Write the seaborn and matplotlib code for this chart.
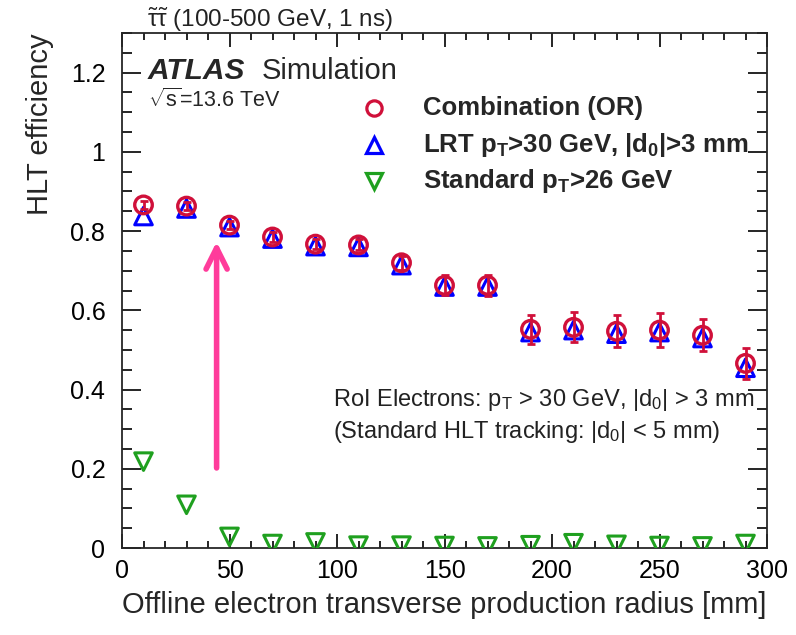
import matplotlib
matplotlib.use('Agg')
import matplotlib.pyplot as plt
from matplotlib.lines import Line2D
from matplotlib.ticker import MultipleLocator
import seaborn as sns
import numpy as np
import pandas as pd

# values
radius = [10, 30, 50, 70, 90, 110, 130, 150, 170, 190, 210, 230, 250, 270, 290]
eff_comb = [0.866, 0.863, 0.815, 0.785, 0.767, 0.765, 0.720, 0.663, 0.663,
            0.552, 0.557, 0.547, 0.550, 0.537, 0.466]
err_comb = [0.010, 0.010, 0.010, 0.012, 0.013, 0.014, 0.018, 0.025, 0.027,
            0.037, 0.038, 0.040, 0.043, 0.040, 0.040]
eff_lrt = [0.838, 0.857, 0.810, 0.781, 0.762, 0.760, 0.714, 0.660, 0.660,
           0.545, 0.550, 0.541, 0.545, 0.530, 0.455]
eff_std = [0.218, 0.109, 0.028, 0.010, 0.014, 0.006, 0.006, 0.005, 0.004,
           0.007, 0.012, 0.008, 0.005, 0.004, 0.010]

df = pd.DataFrame({'radius': radius, 'comb': eff_comb, 'lrt': eff_lrt, 'std': eff_std})

red = '#D0103A'
blue = '#0000FF'
green = '#1FA01F'
pink = '#FF3C9B'

sns.set_style("ticks")
plt.rcParams['font.family'] = ['Liberation Sans', 'DejaVu Sans']
plt.rcParams['mathtext.fontset'] = 'custom'
plt.rcParams['mathtext.rm'] = 'Liberation Sans'
plt.rcParams['mathtext.it'] = 'Liberation Sans:italic'
plt.rcParams['mathtext.bf'] = 'Liberation Sans:bold'
plt.rcParams['mathtext.default'] = 'regular'

fig = plt.figure(figsize=(7.96, 6.35), dpi=100)
ax = fig.add_axes([122 / 796, 1 - 548 / 635, (767 - 122) / 796, (548 - 33) / 635])

# standard tracking
sns.scatterplot(data=df, x='radius', y='std', marker='v', s=160, facecolors='none',
                edgecolor=green, linewidth=2.2, ax=ax, zorder=3)
# LRT
sns.scatterplot(data=df, x='radius', y='lrt', marker='^', s=160, facecolors='none',
                edgecolor=blue, linewidth=2.2, ax=ax, zorder=4)
# combination with error bars
ax.errorbar(radius, eff_comb, yerr=err_comb, fmt='none', ecolor=red, elinewidth=2,
            capsize=3, capthick=2, zorder=5)
sns.scatterplot(data=df, x='radius', y='comb', marker='o', s=160, facecolors='none',
                edgecolor=red, linewidth=2.4, ax=ax, zorder=6)

# pink arrow
ax.annotate('', xy=(44, 0.78), xytext=(44, 0.195),
            arrowprops=dict(arrowstyle='->', color=pink, lw=4, mutation_scale=38))

ax.set_xlim(0, 300)
ax.set_ylim(0, 1.3)
ax.xaxis.set_major_locator(MultipleLocator(50))
ax.xaxis.set_minor_locator(MultipleLocator(10))
ax.yaxis.set_minor_locator(MultipleLocator(0.05))
ax.set_yticks([0, 0.2, 0.4, 0.6, 0.8, 1.0, 1.2])
ax.set_yticklabels(['0', '0.2', '0.4', '0.6', '0.8', '1', '1.2'])

ax.tick_params(axis='both', which='both', direction='in', top=True, right=True,
               labelsize=18, colors='black', width=1.2)
ax.tick_params(axis='x', which='major', length=10, pad=8)
ax.tick_params(axis='x', which='minor', length=5)
ax.tick_params(axis='y', which='major', length=14, pad=12)
ax.tick_params(axis='y', which='minor', length=7)
for sp in ax.spines.values():
    sp.set_linewidth(1.3)

ax.set_xlabel('Offline electron transverse production radius [mm]', fontsize=21, loc='right', labelpad=6)
ax.set_ylabel('HLT efficiency', fontsize=21, loc='top', labelpad=12)

# texts
fig.text(147 / 796, 1 - 27 / 635, r'$\tilde{\tau}\tilde{\tau}$ (100-500 GeV, 1 ns)', fontsize=17.5,
         va='baseline', color='#222222')
fig.text(148 / 796, 1 - 79 / 635, 'ATLAS', fontsize=21.5, fontweight='bold', fontstyle='italic',
         va='baseline')
fig.text(262 / 796, 1 - 79 / 635, 'Simulation', fontsize=21, va='baseline')
fig.text(148 / 796, 1 - 107 / 635, r'$\sqrt{s}$=13.6 TeV', fontsize=15.5, va='baseline')

labels = ['Combination (OR)', r'LRT p$_{T}$>30 GeV, |d$_{0}$|>3 mm', r'Standard p$_{T}$>26 GeV']
markers = [('o', red), ('^', blue), ('v', green)]
for i, (lab, (m, c)) in enumerate(zip(labels, markers)):
    yc = [108, 145, 181][i]
    fig.add_artist(Line2D([374 / 796], [1 - yc / 635], marker=m, markersize=11, markerfacecolor='none',
                          markeredgecolor=c, markeredgewidth=2.3, linestyle='none'))
    fig.text(423 / 796, 1 - (yc + 7) / 635, lab, fontsize=18.5, fontweight='bold', va='baseline')

fig.text(333 / 796, 1 - 406 / 635, r'RoI Electrons: p$_{T}$ > 30 GeV, |d$_{0}$| > 3 mm', fontsize=17,
         va='baseline', color='#222222')
fig.text(333 / 796, 1 - 438 / 635, r'(Standard HLT tracking: |d$_{0}$| < 5 mm)', fontsize=17,
         va='baseline', color='#222222')

fig.savefig('out.png', dpi=100)
